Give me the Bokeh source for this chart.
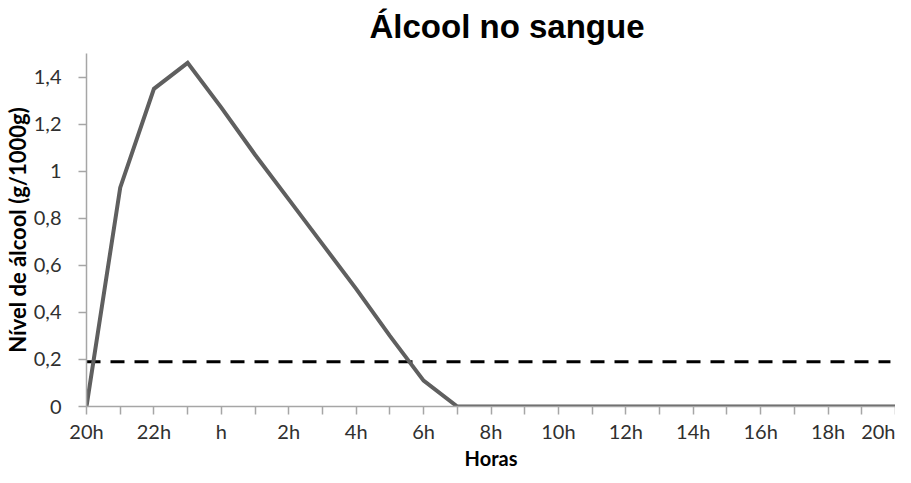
from bokeh.plotting import figure
from bokeh.models import FixedTicker, Range1d, Title
from bokeh.embed import file_html
from bokeh.resources import INLINE

# ---- data ----
title_text = "Álcool no sangue"
x_axis_title = "Horas"
y_axis_title = "Nível de álcool (g/1000g)"

hours = list(range(25))  # hours elapsed since 20h
alcohol = [0, 0.93, 1.35, 1.46, 1.27, 1.07, 0.88, 0.69, 0.50, 0.30, 0.11,
           0, 0, 0, 0, 0, 0, 0, 0, 0, 0, 0, 0, 0, 0]

x_tick_hours = [0, 2, 4, 6, 8, 10, 12, 14, 16, 18, 20, 22, 24]
x_tick_labels = ["20h", "22h", "h", "2h", "4h", "6h", "8h", "10h", "12h",
                 "14h", "16h", "18h", "20h"]

y_ticks = [0.0, 0.2, 0.4, 0.6, 0.8, 1.0, 1.2, 1.4]
y_tick_labels = ["0", "0,2", "0,4", "0,6", "0,8", "1", "1,2", "1,4"]

limit_x = [0, 23.85]
limit_y = [0.19, 0.19]

# ---- figure ----
p = figure(width=895, height=467, output_backend="svg", toolbar_location=None,
           x_range=Range1d(0, 24), y_range=Range1d(0, 1.5),
           min_border_left=0, min_border_right=0, min_border_top=0,
           min_border_bottom=0)
p.background_fill_color = "white"
p.border_fill_color = "white"
p.outline_line_color = None
p.xgrid.grid_line_color = None
p.ygrid.grid_line_color = None

p.title.text = title_text
p.title.text_font = "Liberation Sans"
p.title.text_font_style = "bold"
p.title.text_font_size = "33px"
p.title.text_color = "black"
p.title.align = "left"
p.title.offset = 283
p.title.standoff = 14
p.title.vertical_align = "top"

p.line(limit_x, limit_y, line_color="black", line_width=3, line_dash="14 10")
p.line(hours, alcohol, line_color="#5f5f5f", line_width=4, line_join="miter")

xa = p.xaxis[0]
xa.ticker = FixedTicker(ticks=hours)
overrides = {h: "" for h in hours}
for h, lab in zip(x_tick_hours, x_tick_labels):
    overrides[h] = lab
xa.major_label_overrides = overrides
ya = p.yaxis[0]
ya.ticker = FixedTicker(ticks=y_ticks)
ya.major_label_overrides = dict(zip(y_ticks, y_tick_labels))

for ax in (xa, ya):
    ax.axis_line_color = "#a6a6a6"
    ax.axis_line_width = 1.5
    ax.major_tick_line_color = "#a6a6a6"
    ax.major_tick_line_width = 1.5
    ax.major_tick_in = 0
    ax.major_tick_out = 8
    ax.minor_tick_line_color = None
    ax.major_label_text_font = "Lato"
    ax.major_label_text_font_size = "20px"
    ax.major_label_text_color = "#303030"
    ax.axis_label_text_font = "Lato"
    ax.axis_label_text_font_style = "bold"
    ax.axis_label_text_color = "black"

xa.major_label_standoff = 4

ya.major_label_standoff = 17
ya.axis_label = y_axis_title
ya.axis_label_text_font_size = "22px"
ya.axis_label_standoff = 0

xtitle = Title(text=x_axis_title, text_font="Lato", text_font_style="bold",
               text_font_size="20px", text_color="black", align="center",
               vertical_align="bottom", standoff=-4)
p.add_layout(xtitle, "below")

open("out.html", "w").write(file_html(p, INLINE))
